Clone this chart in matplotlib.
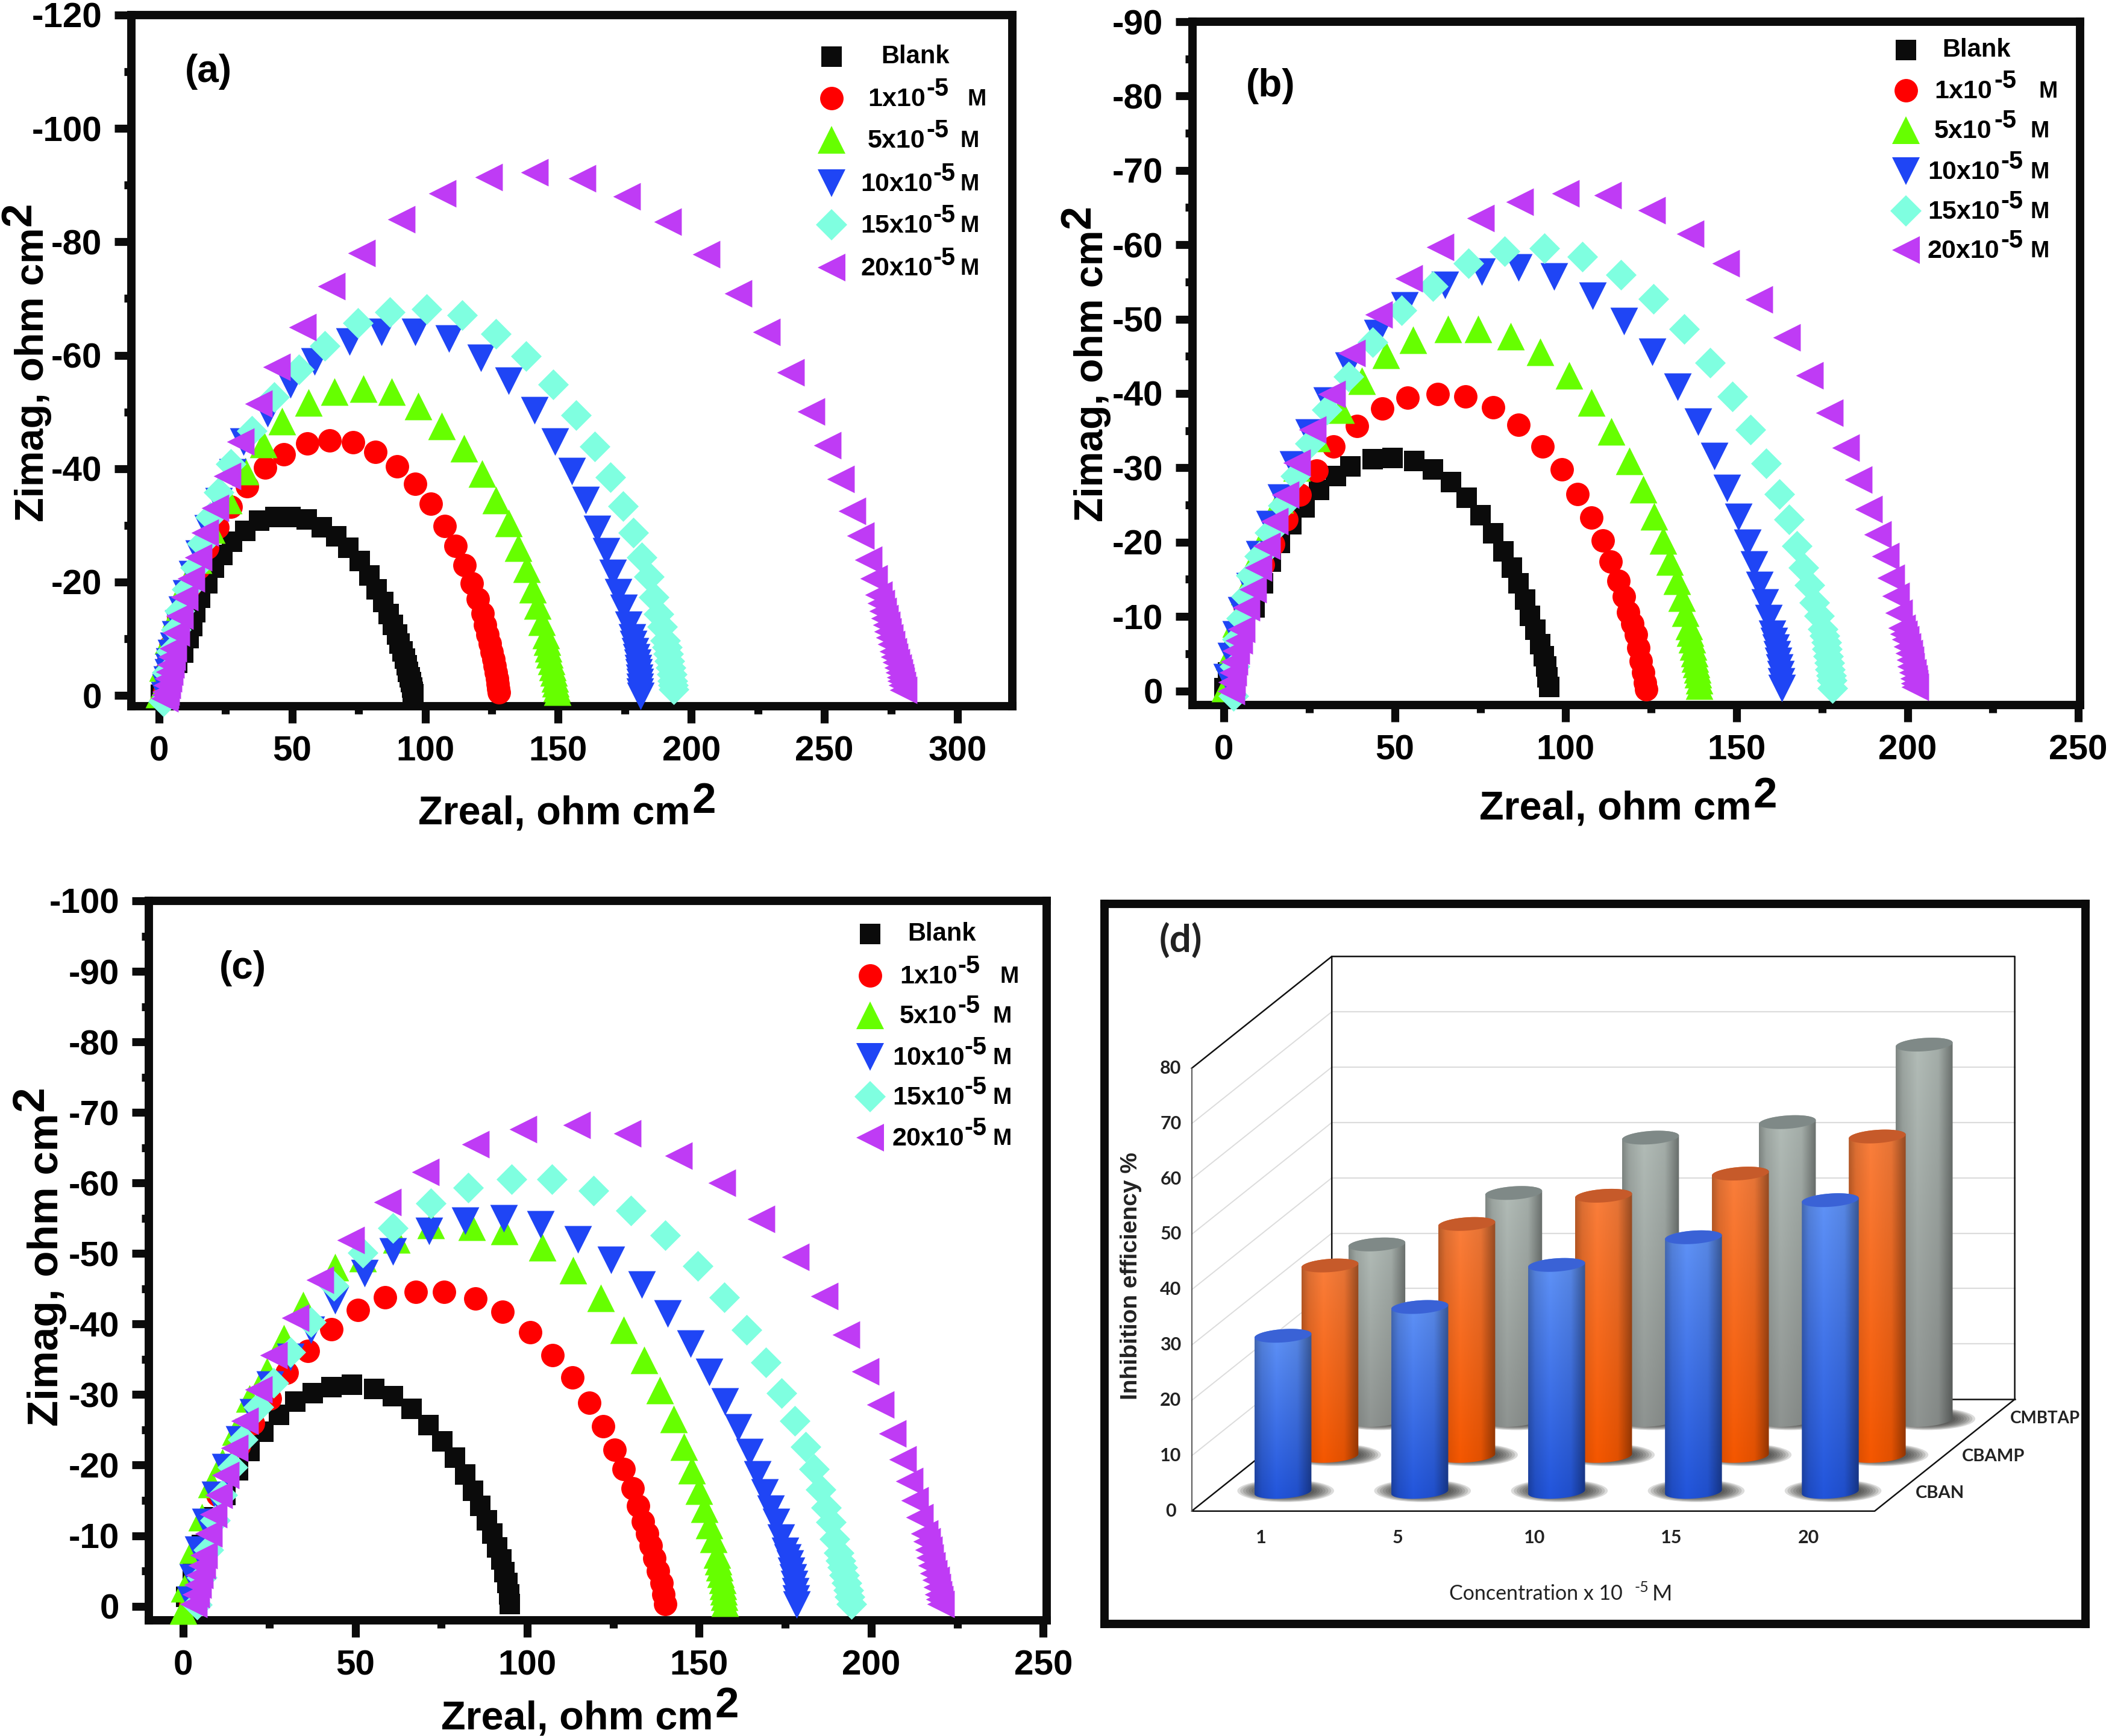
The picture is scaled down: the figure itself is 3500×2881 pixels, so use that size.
import numpy as np
import matplotlib
matplotlib.use("Agg")
import matplotlib.pyplot as plt
from matplotlib.lines import Line2D
from matplotlib.patches import Polygon, Ellipse
from matplotlib.text import Annotation

plt.rcParams["font.family"] = ["Liberation Sans", "DejaVu Sans"]
plt.rcParams["axes.unicode_minus"] = False

W, H = 3500, 2881

# panel (a), Zreal and -Zimag in ohm cm2
A_BLANK_X = [0.7, 2, 3.3, 5, 6.8, 9, 11.1, 12.4, 13.7, 15.5, 18.1, 20.7, 23.7, 27.5, 32.4, 37.6, 43.7, 49.4, 55.5, 61.1, 66.6, 71.2, 75.3, 79, 81.7, 84.2, 86.3, 87.9, 89.4, 90.4, 91.4, 92.3, 93, 93.6, 94.2, 94.7, 95, 95.3, 95.5]
A_BLANK_Y = [0.1, 0.9, 2.3, 4, 5.8, 7.6, 10.1, 12.2, 14.7, 17.2, 19.8, 22.5, 24.8, 27.1, 29, 30.8, 31.5, 31.5, 31, 29.7, 28.1, 26, 23.7, 21.2, 18.7, 16.5, 14.4, 12.5, 10.8, 9.2, 7.8, 6.5, 5.3, 4.2, 3.2, 2.3, 1.4, 0.7, 0.2]
A_RED_X = [2.1, 2.5, 3, 3.6, 4.4, 5.8, 7.2, 9.4, 11.5, 15, 18.1, 22, 27, 33, 39.8, 46.8, 55.6, 64.1, 73, 81.3, 89.5, 96.3, 102.2, 107.3, 111.3, 114.7, 117.5, 119.8, 121.5, 122.5, 123.4, 124.2, 125, 125.7, 126.2, 126.6, 127, 127.3, 127.5, 127.6]
A_RED_Y = [0.7, 2.3, 4.4, 6.5, 8.7, 11.2, 13.6, 16.5, 19.3, 22.5, 26, 29.7, 33.3, 36.9, 40.2, 42.5, 44.4, 45, 44.6, 43, 40.4, 37.3, 33.8, 29.9, 26.4, 23, 19.8, 17, 14.5, 12.5, 10.8, 9.2, 7.7, 6.4, 5.2, 4.1, 3, 2, 1.2, 0.5]
A_GREEN_X = [0, 1.3, 3.3, 6.3, 9.6, 14.7, 19.7, 26, 32.3, 39.2, 46.2, 56.1, 66, 76.8, 87.4, 97.3, 106.1, 114.5, 121.3, 126.6, 131.4, 134.9, 138.2, 140.3, 142.3, 143.8, 145.3, 145.8, 146.3, 146.8, 147.3, 147.8, 148.3, 148.7, 149.1, 149.4, 149.6]
A_GREEN_Y = [0.2, 4.9, 9.7, 14.4, 19.2, 23.9, 29.2, 34.4, 39.6, 44.3, 48.4, 51.7, 53.6, 54.1, 53.6, 51, 47.5, 43.6, 39.1, 34.4, 30.4, 26, 22.3, 18.7, 15.9, 13, 10.6, 9.5, 8.3, 7.2, 6.1, 5, 4, 3, 2.1, 1.3, 0.7]
A_BLUE_X = [2, 2.4, 2.9, 3.3, 3.7, 3.9, 4.6, 5.5, 6.2, 7.2, 8.7, 10.2, 12.4, 15, 18.3, 22.4, 27.6, 31.6, 40.7, 49.3, 58.4, 71.5, 83.6, 96.3, 108.9, 121, 131.4, 141, 148.8, 155.2, 160.2, 164.5, 168, 170.6, 172.6, 174.6, 176.4, 177.7, 178.3, 178.9, 179.3, 179.7, 180, 180.2, 180.5, 180.7, 180.7, 180.7, 181]
A_BLUE_Y = [0, 1.4, 2.8, 4.1, 5, 6, 7.4, 8.7, 10.7, 12.7, 15.1, 18, 21.4, 25, 29.4, 34.2, 39.3, 44.8, 49.8, 54.8, 58.9, 62.4, 64.1, 64.1, 62.9, 59.5, 55.5, 50.3, 44.8, 39.5, 34.4, 29.3, 25.4, 21.6, 18.2, 15.4, 12.5, 10.2, 9, 7.8, 6.7, 5.7, 4.8, 4, 3.1, 2.3, 1.5, 0.7, -0.1]
A_CYAN_X = [1.5, 3, 4.6, 6.3, 7.8, 10.5, 13.5, 16, 19.3, 22.5, 27, 34.9, 43.2, 52.6, 62.2, 74.8, 86.7, 100.6, 114, 126.6, 138, 148.1, 156.7, 163.8, 169.6, 174.4, 178.2, 181.4, 184, 186, 187.8, 189, 190.3, 190.8, 191.3, 191.8, 192.3, 192.6, 192.8, 193.1, 193.3]
A_CYAN_Y = [-1, 4, 7.8, 11.6, 14.9, 18.7, 22.5, 26.8, 31.5, 35.8, 40.8, 46.7, 52.6, 57.5, 61.7, 65.7, 67.6, 68.1, 67.1, 63.8, 59.8, 54.8, 49.4, 43.9, 38.5, 33.4, 28.7, 24.4, 20.9, 17.3, 14.4, 12.1, 9.7, 8.5, 7.3, 6.1, 4.9, 3.7, 2.6, 1.8, 1.1]
A_PURPLE_X = [2, 2.2, 2.5, 2.9, 3.3, 3.8, 4.3, 4.8, 5.3, 6.3, 7.8, 9.6, 12.1, 14.7, 17.2, 21, 25.5, 30.6, 37.4, 44.2, 53.8, 64.7, 76, 91, 106.4, 123.8, 141, 159, 175.6, 191, 205.5, 217.6, 228.2, 237.3, 245, 251, 256, 260.3, 263.6, 266.6, 268.6, 270.4, 271.2, 271.9, 272.6, 273.2, 273.8, 274.4, 275, 275.7, 276.3, 277, 277.5, 278, 278.4, 278.8, 279.2, 279.6]
A_PURPLE_Y = [-0.5, 0.1, 0.7, 1.8, 3, 4.2, 5.4, 6.8, 8.3, 11.1, 14, 17.3, 20.6, 24.4, 28.7, 33.1, 38.7, 44.8, 51.5, 57.9, 65, 72.2, 78, 84, 88.5, 91.4, 92.3, 91.2, 88, 83.5, 77.8, 70.9, 64.1, 57, 50.1, 44.1, 38.2, 32.5, 28.2, 23.9, 20.6, 17.8, 16.3, 14.9, 13.6, 12.5, 11.3, 10.2, 9, 7.8, 6.8, 5.9, 4.9, 4, 3.2, 2.6, 1.8, 1]

# panel (b)
B_BLANK_X = [0.2, 1.2, 3.1, 5.1, 9, 11.4, 13.8, 16.3, 19.7, 23.6, 27.8, 32.7, 37, 43.5, 49.4, 55.7, 61.2, 66.5, 71.1, 75, 78.7, 81.7, 84.3, 86.2, 88.2, 89.6, 91.1, 92.5, 93.5, 94.3, 94.7, 95.1]
B_BLANK_Y = [0.4, 2.5, 5.4, 8.3, 11.2, 14.5, 17.4, 19.9, 22.4, 24.7, 27, 28.9, 30.2, 31.2, 31.3, 30.9, 29.8, 28.1, 26, 23.6, 21.2, 18.8, 16.6, 14.5, 12.3, 10.1, 8.2, 6.3, 4.7, 3.3, 1.8, 0.5]
B_RED_X = [2, 2.4, 3.2, 4.3, 6.2, 8.5, 11.4, 14.4, 18.3, 22.2, 27.2, 32.1, 39, 46.3, 53.7, 62.6, 70.7, 78.7, 86.2, 93.3, 98.8, 103.5, 107.5, 110.8, 113.2, 115.4, 117.1, 118.3, 119.5, 120.5, 121.3, 122, 122.6, 123.2, 123.6]
B_RED_Y = [0.1, 2.5, 5.4, 8.3, 11.2, 14.1, 17, 19.7, 23.1, 26.4, 29.6, 32.9, 35.6, 38, 39.4, 39.9, 39.6, 38.1, 35.8, 32.9, 29.8, 26.5, 23.3, 20.2, 17.4, 14.8, 12.7, 10.6, 9, 7.6, 5.8, 4, 2.5, 1.1, 0.2]
B_GREEN_X = [0.4, 1.6, 3.5, 5.9, 9.1, 12.4, 16.3, 21.3, 27.2, 34.1, 40.4, 47.4, 55.3, 65.6, 74.4, 83.9, 92.5, 101, 107.5, 113.4, 118.7, 122.6, 125.8, 128.5, 130.5, 132.5, 133.9, 135, 136, 136.5, 137, 137.3, 137.6, 137.9, 138.2, 138.5, 138.8, 139, 139]
B_GREEN_Y = [0.4, 4.7, 9, 13.4, 17.7, 21.3, 25.7, 30, 34, 37.8, 41.7, 45.2, 47.2, 48.7, 48.7, 47.7, 45.6, 42.4, 38.8, 34.9, 30.9, 27.1, 23.5, 20.2, 17.4, 14.8, 12.5, 10.5, 8.7, 7.8, 6.9, 6, 5.1, 4.3, 3.6, 2.9, 2.2, 1.4, 0.7]
B_BLUE_X = [0.8, 2, 3.5, 5.1, 7.5, 10.4, 13.4, 16.7, 20.3, 24.8, 30.1, 36.4, 44.9, 52.8, 64.6, 75.4, 86.2, 96.5, 107.9, 117.1, 125.4, 132.7, 138.8, 143.5, 147.2, 150.6, 153.1, 155.1, 156.7, 158.3, 159.4, 160.4, 160.9, 161.4, 161.8, 162.2, 162.5, 162.8, 163, 163.2]
B_BLUE_Y = [1.8, 4.7, 7.6, 10.8, 14.1, 18.4, 22.4, 26, 30.4, 34.7, 39, 43.7, 48.1, 51.8, 54.6, 56.4, 56.9, 55.7, 53.1, 49.7, 45.6, 40.9, 36.2, 31.6, 27.3, 23.4, 19.9, 17, 14.2, 11.9, 9.8, 7.7, 6.7, 5.8, 4.9, 4, 3.1, 2.2, 1.3, 0.4]
B_CYAN_X = [2.8, 3.1, 3.9, 5.1, 6.5, 7.9, 10.4, 13.4, 17.3, 20.9, 25.2, 30.1, 36.4, 43.5, 52, 61.2, 71.5, 82.1, 93.7, 104.9, 116.1, 125.6, 134.6, 142.3, 148.8, 154.1, 158.7, 162.6, 165.4, 167.6, 169.5, 171.3, 172.8, 174.2, 175.2, 175.7, 176.2, 176.5, 176.8, 177.1, 177.4, 177.6, 177.8, 178.1]
B_CYAN_Y = [-0.7, 3.3, 6.9, 9.8, 12.7, 15.5, 18.1, 21.3, 24.9, 28.9, 33.3, 37.8, 42.3, 46.9, 51.2, 54.4, 57.5, 59.1, 59.5, 58.4, 56, 52.7, 48.7, 44.1, 39.6, 35.1, 30.6, 26.5, 23.1, 19.5, 16.6, 14.2, 11.9, 10.1, 8.3, 7.4, 6.5, 5.6, 4.7, 3.8, 2.9, 2.1, 1.4, 0.4]
B_PURPLE_X = [2, 2.3, 2.6, 3, 3.5, 4.3, 5.1, 6.5, 8.5, 10, 12.4, 14.8, 17.9, 21.3, 25.8, 31.5, 37.4, 45.3, 54.1, 63.2, 75, 86.6, 100, 112.2, 125.2, 136.4, 146.9, 156.5, 164.6, 171.3, 177.2, 181.9, 185.6, 188.6, 191.3, 193.5, 195.1, 196.5, 197.4, 198.4, 198.9, 199.4, 199.9, 200.4, 200.7, 201, 201.4, 201.8, 202, 202.2]
B_PURPLE_Y = [0, 1.2, 2.5, 3.9, 5.4, 6.8, 8.3, 11.2, 13.7, 16.6, 19.5, 22.8, 26.4, 30.7, 35.1, 39.9, 45.4, 50.6, 55.5, 59.7, 63.6, 65.8, 66.9, 66.7, 64.6, 61.5, 57.5, 52.6, 47.5, 42.4, 37.4, 32.7, 28.4, 24.4, 21, 18.1, 15.2, 12.8, 10.5, 8.5, 7.7, 6.9, 6, 5.1, 4.2, 3.3, 2.5, 1.7, 1, 0.5]

# panel (c)
C_BLANK_X = [0.8, 2.8, 5.4, 8.3, 12.3, 15.9, 19.3, 23.3, 27.8, 32.6, 37.6, 43.1, 49.1, 55.5, 61, 66.4, 71.2, 75.3, 78.9, 81.9, 84.3, 86.3, 88.3, 89.9, 91.3, 92.4, 93.4, 94.2, 94.8, 95]
C_BLANK_Y = [1.3, 4.8, 8.7, 12.6, 15.8, 19.3, 22, 24.7, 27.1, 29, 30.2, 31.1, 31.4, 30.8, 29.8, 28, 25.7, 23.4, 21.1, 18.7, 16.4, 14.2, 12.2, 10.3, 8.3, 6.6, 4.8, 3.3, 1.7, 0.3]
C_RED_X = [2, 2.6, 4.4, 6.8, 9.9, 13.3, 16.3, 20.3, 25.2, 30.2, 36.2, 43.1, 50.7, 58.6, 67.6, 75.9, 84.9, 92.8, 100.8, 107.4, 113.1, 118.1, 122.1, 125.4, 128, 130.6, 132.2, 133.6, 134.8, 136, 137, 138, 139, 139.6, 140.2]
C_RED_Y = [0.2, 2.5, 7.2, 11.9, 15.8, 19.7, 22.8, 25.9, 29.4, 33.1, 36.2, 39.3, 42, 43.8, 44.6, 44.6, 43.6, 41.7, 38.8, 35.6, 32.4, 28.8, 25.5, 22.2, 19.4, 16.7, 14.2, 12, 10.3, 8.6, 6.8, 5, 3.3, 1.7, 0.3]
C_GREEN_X = [0, 0.4, 2.8, 5.4, 8.3, 11.3, 15.3, 19.3, 24.3, 29.2, 34.8, 44.1, 52.1, 62, 72, 83.9, 93.4, 104.4, 113.3, 121.3, 128, 134, 138.6, 142.5, 145.5, 147.9, 149.9, 151.5, 152.9, 154.1, 155.1, 155.5, 155.9, 156.3, 156.7, 156.9, 157.1, 157.3, 157.5]
C_GREEN_Y = [-0.6, 2.5, 8, 12.6, 17.3, 20.4, 24.7, 29.4, 33.3, 38, 42.7, 48.1, 49.3, 52, 54, 53.8, 53.2, 50.9, 47.6, 43.7, 39.2, 34.9, 30.6, 26.5, 22.6, 19.3, 16.4, 13.8, 11.5, 9.5, 7.3, 6.4, 5.5, 4.6, 3.7, 2.9, 2.1, 1.3, 0.5]
C_BLUE_X = [2, 2.8, 4.4, 6.4, 9.3, 12.3, 16.3, 20.3, 25.2, 31.2, 37.2, 44.1, 52.7, 61, 71.4, 81.9, 93.2, 103.8, 114.7, 124.3, 133.2, 140.8, 147.5, 152.9, 157.5, 161.4, 164.6, 167, 169, 170.8, 172.4, 173.8, 175, 175.6, 176.3, 176.8, 177.3, 177.6, 177.9, 178.1, 178.3]
C_BLUE_Y = [0.9, 4.1, 8, 11.9, 15.8, 19.7, 23.6, 27.5, 31.4, 35.3, 39.2, 43.4, 47.2, 50.3, 53.2, 54.6, 55, 54.1, 52, 49.1, 45.6, 41.5, 37.2, 33.2, 29, 25.3, 21.8, 18.7, 16.1, 13.8, 11.9, 9.7, 7.8, 6.9, 6, 5, 4.1, 3.1, 2.1, 1.1, 0.2]
C_CYAN_X = [4, 5.4, 7.4, 9.3, 11.3, 14.3, 17.3, 21.9, 26.2, 31.2, 37.2, 43.7, 52.1, 61, 72, 82.9, 95.4, 107.2, 119.3, 130.2, 140.2, 149.5, 157.3, 163.8, 169.4, 174, 177.7, 180.9, 183.3, 185.3, 186.9, 188.3, 189.3, 190.5, 191.1, 191.7, 192.2, 192.8, 193.3, 193.8, 194.2]
C_CYAN_Y = [0.2, 4.1, 8, 12.2, 15.8, 19.7, 23.6, 28.2, 31.7, 36, 40.3, 45.4, 50.1, 53.6, 57.1, 59.3, 60.5, 60.5, 58.9, 56.1, 52.6, 48.2, 43.8, 39.2, 34.6, 30.2, 26.3, 22.6, 19.4, 16.5, 14, 11.9, 9.5, 7.6, 6.5, 5.5, 4.4, 3.3, 2.3, 1.3, 0.3]
C_PURPLE_X = [3, 3.6, 4.2, 4.8, 5.4, 6, 7.4, 8.7, 10.3, 12.3, 14.9, 17.9, 21.9, 26.2, 32.6, 39.8, 48.7, 59.4, 70.4, 84.9, 98.8, 114.3, 129, 143.9, 156.5, 168, 177.9, 186.3, 192.6, 198.2, 202.6, 206.2, 209.1, 211.1, 212.7, 214.1, 215.5, 216.1, 216.7, 217.1, 217.5, 218.1, 218.7, 219.1, 219.5, 219.8, 220.1]
C_PURPLE_Y = [0.3, 1.7, 3, 4.4, 5.8, 7.2, 10.3, 13, 15.8, 18.6, 22.4, 26.3, 30.7, 35.6, 40.9, 46.3, 51.9, 57.3, 61.6, 65.5, 67.6, 68.2, 67, 63.9, 60, 54.9, 49.5, 44, 38.5, 33.3, 28.6, 24.5, 20.8, 17.7, 15, 12.6, 10.3, 9.2, 8, 6.9, 5.8, 4.7, 3.7, 2.7, 1.7, 1, 0.3]

# panel (d)
CONC_LABELS = ["1", "5", "10", "15", "20"]
CBAN = [28.2, 33.4, 41, 46, 52.7]
CBAMP = [34.4, 41.9, 47, 51, 57.7]
CMBTAP = [31.7, 41, 51, 53.8, 67.8]
IE_TICKS = [0, 10, 20, 30, 40, 50, 60, 70, 80]

LEGEND_NUMS = ["1x10", "5x10", "10x10", "15x10", "20x10"]

# marker, size in pt, colour
STYLES = [
    ("s", 24, "#0b0b0b"),
    ("o", 28, "#ff0000"),
    ("^", 33, "#66ff00"),
    ("v", 33, "#1f45f5"),
    ("D", 26, "#7fffe0"),
    ("<", 33, "#bf3bf5"),
]


def px(x, y):
    return x / W, 1 - y / H


def add_axes_px(fig, left, top, right, bottom):
    return fig.add_axes([left / W, 1 - bottom / H, (right - left) / W, (bottom - top) / H])


def txt(fig, x, y, s, **kw):
    fx, fy = px(x, y)
    return fig.text(fx, fy, s, **kw)


def draw_nyquist(fig, box, xlim, ylim, xticks, yticks, series):
    ax = add_axes_px(fig, *box)
    for (mk, ms, col), (xs, ys) in zip(STYLES, series):
        ax.scatter(xs, -np.array(ys), marker=mk, s=ms ** 2, color=col, linewidths=0, clip_on=False, zorder=3)
    ax.set_xlim(*xlim)
    ax.set_ylim(*ylim)
    ax.set_xticks(xticks)
    ax.set_yticks(yticks)
    ax.set_xticks((np.array(xticks[:-1]) + np.array(xticks[1:])) / 2, minor=True)
    ax.set_yticks((np.array(yticks[:-1]) + np.array(yticks[1:])) / 2, minor=True)
    ax.tick_params(axis="both", which="major", length=20, width=9.5, color="#0b0b0b", labelsize=42, pad=15)
    ax.tick_params(axis="both", which="minor", length=9, width=9.5, color="#0b0b0b")
    for lab in ax.get_xticklabels() + ax.get_yticklabels():
        lab.set_fontweight("bold")
    for sp in ax.spines.values():
        sp.set_linewidth(10)
        sp.set_color("#0b0b0b")
    return ax


def axis_titles(fig, xpos, ypos, xsize, ysize):
    t = txt(fig, xpos[0], xpos[1], "Zreal, ohm cm", fontsize=xsize, fontweight="bold", ha="left", va="baseline")
    fig.add_artist(Annotation("2", xy=(1, 0), xycoords=t, xytext=(2, 24), textcoords="offset points",
                              fontsize=xsize + 3, fontweight="bold", ha="left", va="baseline"))
    t = txt(fig, ypos[0], ypos[1], "Zimag, ohm cm", fontsize=ysize, fontweight="bold", rotation=90,
            ha="left", va="baseline", rotation_mode="anchor")
    fig.add_artist(Annotation("2", xy=(0, 1), xycoords=t, xytext=(19, 2), textcoords="offset points",
                              fontsize=ysize + 3, fontweight="bold", rotation=90,
                              ha="left", va="baseline", rotation_mode="anchor"))


def legend(fig, mx, rows, blank_x, num_x, sup_x, m_x):
    fx, _ = px(mx, 0)
    for i, (mk, ms, col) in enumerate(STYLES):
        _, fy = px(0, rows[i])
        fig.add_artist(Line2D([fx], [fy], marker=mk, markersize=ms, color=col,
                              markeredgewidth=0, linestyle="none", transform=fig.transFigure))
    txt(fig, blank_x, rows[0], "Blank", fontsize=30, fontweight="bold", va="center")
    for i, num in enumerate(LEGEND_NUMS):
        y = rows[i + 1]
        txt(fig, num_x[i], y + 2, num, fontsize=31, fontweight="bold", va="center")
        txt(fig, sup_x[i] + 2, y - 15, "-5", fontsize=30, fontweight="bold", va="center")
        txt(fig, m_x[i], y + 2, "M", fontsize=27, fontweight="bold", va="center")


def cyl_outline(cx, y0, y1, a, b, k):
    t = np.linspace(0, np.pi, 40)
    top = np.c_[cx + a * np.cos(t), y1 + b * np.sin(t) + k * np.cos(t)]
    low = np.c_[cx - a * np.cos(t), y0 - b * np.sin(t) - k * np.cos(t)]
    return np.r_[top, low]


def draw_cylinder(ax, cx, y0, y1, c_top, c_low, c_cap, z):
    a, b, k = 0.208, 1.2, 0.35
    # soft shadow on the floor
    for f in np.linspace(1.7, 1.0, 8):
        ax.add_patch(Ellipse((cx + 0.02, y0 + 0.2), 2 * a * f, 2 * b * f, color="#30302e", alpha=0.17, lw=0, zorder=z))
    u = np.linspace(0, 1, 64)
    shade = np.interp(u, [0, 0.12, 0.38, 0.75, 1], [0.72, 0.88, 1.0, 0.92, 0.6])
    v = np.linspace(0, 1, 64)[:, None, None]
    img = (np.array(c_top)[None, None, :] * (1 - v) + np.array(c_low)[None, None, :] * v) * shade[None, :, None]
    im = ax.imshow(np.clip(img, 0, 1), extent=(cx - a, cx + a, y0 - b - 0.4, y1 + b + 0.4), aspect="auto", zorder=z + 0.1)
    body = Polygon(cyl_outline(cx, y0, y1, a, b, k), closed=True, fc="none", ec="none", transform=ax.transData)
    ax.add_patch(body)
    im.set_clip_path(body)
    t = np.linspace(0, 2 * np.pi, 60)
    ax.add_patch(Polygon(np.c_[cx + a * np.cos(t), y1 + b * np.sin(t) + k * np.cos(t)], closed=True, fc=c_cap, ec="none", zorder=z + 0.2))


def draw_bars(fig, box):
    ax = add_axes_px(fig, *box)
    ax.set_xlim(-1.304, 5.865)
    ax.set_ylim(-20.38, 109.7)
    ax.set_xticks([])
    ax.set_yticks([])
    for sp in ax.spines.values():
        sp.set_linewidth(10)
        sp.set_color("#0b0b0b")

    # walls of the 3D box
    for v in range(10, 90, 10):
        ax.plot([0.357, 5.348], [20.2 + v, 20.2 + v], color="#dcdcdc", lw=1.6, zorder=1)
    for v in range(10, 80, 10):
        ax.plot([-0.667, 0.357], [v, 20.2 + v], color="#dcdcdc", lw=1.4, zorder=1)
    ax.plot([-0.667, 0.357, 0.357], [80, 100.2, 20.2], color="#111111", lw=1.8, zorder=1.5)
    ax.plot([0.357, 5.348, 5.348, 4.324, -0.667, 0.357], [100.2, 100.2, 20.2, 0, 0, 20.2], color="#111111", lw=1.8, zorder=1.5)
    ax.plot([0.357, 5.348], [20.2, 20.2], color="#111111", lw=1.8, zorder=1.5)
    ax.plot([-0.667, -0.667], [0, 80], color="#555555", lw=1.4, zorder=1.5)

    rows = [
        (CMBTAP, (0.70, 0.74, 0.72), (0.56, 0.58, 0.57), "#7f8987"),
        (CBAMP, (0.98, 0.50, 0.24), (0.96, 0.34, 0.0), "#c65a2a"),
        (CBAN, (0.38, 0.58, 0.97), (0.13, 0.33, 0.86), "#3a62d6"),
    ]
    z = 2
    for depth, (vals, c_top, c_low, c_cap) in zip([2, 1, 0], rows):
        for i, val in enumerate(vals):
            cx = i + 0.343 * depth
            base = 3.47 + 6.5 * depth
            draw_cylinder(ax, cx, base, base + val, c_top, c_low, c_cap, z)
            z += 1
    ax.set_xlim(-1.304, 5.865)
    ax.set_ylim(-20.38, 109.7)

    font = ["Lato", "DejaVu Sans"]
    for v in IE_TICKS:
        ax.text(-0.82, v, str(v), family=font, fontsize=22, fontweight="bold", ha="center", va="center", color="#222222")
    for i, lab in enumerate(CONC_LABELS):
        ax.text(i - 0.16, -4.77, lab, family=font, fontsize=22, fontweight="bold", ha="center", va="center", color="#222222")
    ax.text(4.8, 3.2, "CBAN", family=font, fontsize=21, fontweight="bold", ha="center", va="center", color="#222222")
    ax.text(5.19, 9.9, "CBAMP", family=font, fontsize=21, fontweight="bold", ha="center", va="center", color="#222222")
    ax.text(5.57, 16.7, "CMBTAP", family=font, fontsize=20, fontweight="bold", ha="center", va="center", color="#222222")
    ax.text(-1.11, 42.5, "Inhibition efficiency %", fontsize=28, fontweight="bold", rotation=90, ha="center", va="center", color="#222222")

    txt(fig, 2405, 2645, "Concentration x 10", family=font, fontsize=24.5, va="center", color="#222222")
    txt(fig, 2712, 2634, "-5", family=font, fontsize=18, va="center", color="#222222")
    txt(fig, 2742, 2645, "M", family=font, fontsize=26, va="center", color="#222222")
    txt(fig, 1959, 1560, "(d)", family=font, fontsize=46, fontweight="bold", ha="center", va="center", color="#222222")


def main():
    fig = plt.figure(figsize=(W / 100, H / 100), dpi=100)

    # panel (a)
    draw_nyquist(fig, (218, 25, 1680, 1172), (-10.4, 320.6), (1.9, -120),
                 [0, 50, 100, 150, 200, 250, 300], list(range(-120, 1, 20)),
                 [(A_BLANK_X, A_BLANK_Y), (A_RED_X, A_RED_Y), (A_GREEN_X, A_GREEN_Y),
                  (A_BLUE_X, A_BLUE_Y), (A_CYAN_X, A_CYAN_Y), (A_PURPLE_X, A_PURPLE_Y)])
    axis_titles(fig, (694, 1368), (72, 866), 48, 48)
    txt(fig, 346, 119, "(a)", fontsize=46, fontweight="bold", ha="center", va="center")
    legend(fig, 1380, [94, 163, 232, 304, 373, 444], 1462,
           [1440, 1440, 1428, 1428, 1428], [1535, 1535, 1546, 1546, 1546], [1605, 1594, 1594, 1594, 1594])

    # panel (b)
    draw_nyquist(fig, (1979, 36, 3452, 1170), (-9.2, 250.5), (1.9, -90),
                 [0, 50, 100, 150, 200, 250], list(range(-90, 1, 10)),
                 [(B_BLANK_X, B_BLANK_Y), (B_RED_X, B_RED_Y), (B_GREEN_X, B_GREEN_Y),
                  (B_BLUE_X, B_BLUE_Y), (B_CYAN_X, B_CYAN_Y), (B_PURPLE_X, B_PURPLE_Y)])
    axis_titles(fig, (2455, 1359), (1830, 866), 48, 47.5)
    txt(fig, 2109, 143, "(b)", fontsize=46, fontweight="bold", ha="center", va="center")
    legend(fig, 3163, [83, 150, 216, 284, 350, 415], 3223,
           [3210, 3210, 3199, 3199, 3199], [3307, 3307, 3318, 3318, 3318], [3383, 3370, 3370, 3370, 3370])

    # panel (c)
    draw_nyquist(fig, (247, 1495, 1737, 2689), (-10, 251), (2, -100),
                 [0, 50, 100, 150, 200, 250], list(range(-100, 1, 10)),
                 [(C_BLANK_X, C_BLANK_Y), (C_RED_X, C_RED_Y), (C_GREEN_X, C_GREEN_Y),
                  (C_BLUE_X, C_BLUE_Y), (C_CYAN_X, C_CYAN_Y), (C_PURPLE_X, C_PURPLE_Y)])
    axis_titles(fig, (732, 2869), (96, 2367), 48, 51)
    txt(fig, 403, 1607, "(c)", fontsize=46, fontweight="bold", ha="center", va="center")
    legend(fig, 1444, [1550, 1619, 1685, 1754, 1820, 1888], 1506,
           [1493, 1493, 1481, 1481, 1481], [1587, 1587, 1598, 1598, 1598], [1660, 1648, 1648, 1648, 1648])

    # panel (d)
    draw_bars(fig, (1833, 1500, 3461, 2695))

    fig.savefig("out.png", dpi=100, facecolor="white")
    plt.close(fig)


if __name__ == "__main__":
    main()
